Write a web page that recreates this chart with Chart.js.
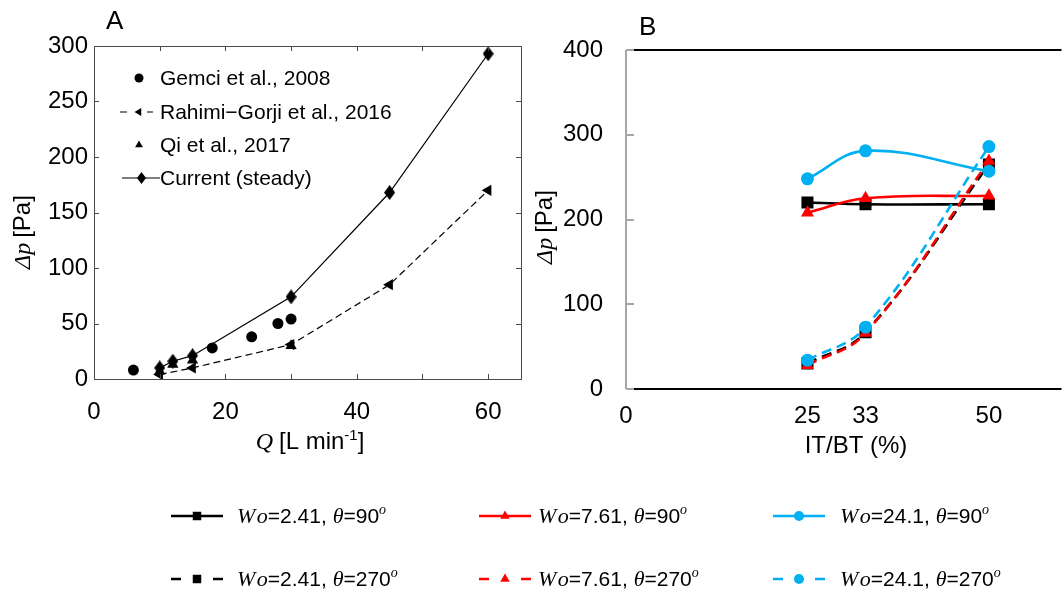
<!DOCTYPE html>
<html>
<head>
<meta charset="utf-8">
<script src="https://cdn.jsdelivr.net/npm/chart.js@4.4.1/dist/chart.umd.min.js"></script>
<style>
  html, body { margin: 0; padding: 0; background: #fff; overflow: hidden; width: 1062px; height: 592px; }
  canvas { position: absolute; top: 0; left: 0; }
</style>
</head>
<body>
<canvas id="chartA" width="540" height="470"></canvas>
<canvas id="chartB" width="1070" height="592"></canvas>
<script>
// ---------- Panel A: pressure drop against flow rate ----------
const flowGemci = [6, 18, 24, 28, 30];
const dpGemci = [8, 28, 38, 50, 54];
const flowRahimi = [10, 15, 30, 45, 60];
const dpRahimi = [4, 10, 31, 85, 170];
const flowQi = [10, 12, 15, 30];
const dpQi = [7, 13, 17, 30];
const flowCurrent = [10, 12, 15, 30, 45, 60];
const dpCurrent = [10, 16, 21, 74, 168, 293];
const flowTicks = [0, 10, 20, 30, 40, 50, 60];
const labelsA = ['Gemci et al., 2008', 'Rahimi\u2212Gorji et al., 2016', 'Qi et al., 2017', 'Current (steady)'];

// ---------- Panel B: pressure drop against IT/BT ----------
const itbt = [25, 33, 50];
const itbtTicks = [0, 25, 33, 50];
const woValues = ['2.41', '7.61', '24.1'];
const thetaValues = ['90', '270'];
const dpWo241Theta90 = [220, 218, 218];
const dpWo761Theta90 = [208, 225, 228];
const dpWo24Theta90 = [248, 281, 257];
const dpWo241Theta270 = [30, 67, 265];
const dpWo761Theta270 = [28, 66, 269];
const dpWo24Theta270 = [34, 73, 286];

const SANS = '"Liberation Sans", Arial, sans-serif';
const SERIF = '"Liberation Serif", "Times New Roman", serif';
const AXIS_A = '#4a4a4a';

const pts = (xs, ys) => xs.map((x, i) => ({ x: x, y: ys[i] }));

// tall diamond marker for the current results
function diamondMarker(w, h, color) {
  const c = document.createElement('canvas');
  c.width = w; c.height = h;
  const g = c.getContext('2d');
  g.fillStyle = color;
  g.beginPath();
  g.moveTo(w / 2, 0); g.lineTo(w, h / 2); g.lineTo(w / 2, h); g.lineTo(0, h / 2);
  g.closePath(); g.fill();
  return c;
}
const diamond = diamondMarker(11, 15, '#000');
const diamondSmall = diamondMarker(9, 12, '#000');

// draw a run of mixed-font text on one baseline
function drawRuns(ctx, runs, x, y, align) {
  let total = 0;
  runs.forEach(r => { ctx.font = r.font; r.w = ctx.measureText(r.text).width + (r.gap || 0); total += r.w; });
  let cx = align === 'center' ? x - total / 2 : x;
  ctx.textBaseline = 'alphabetic';
  ctx.textAlign = 'left';
  runs.forEach(r => { ctx.font = r.font; ctx.fillText(r.text, cx, y + (r.dy || 0)); cx += r.w; });
}

function marker(ctx, ds, x, y, radiusOverride, styleOverride) {
  ctx.fillStyle = ds.pointBackgroundColor || ds.backgroundColor;
  ctx.strokeStyle = ds.borderColor;
  Chart.helpers.drawPoint(ctx, {
    pointStyle: styleOverride || ds.pointStyle,
    rotation: ds.pointRotation || 0,
    radius: radiusOverride || ds.pointRadius,
    borderWidth: 0
  }, x, y);
}

// ---------- chart A ----------
const panelA = {
  id: 'panelA',
  afterDatasetsDraw(chart) {
    const { ctx, chartArea: a, scales: { x, y } } = chart;
    ctx.save();
    // frame
    ctx.strokeStyle = AXIS_A;
    ctx.lineWidth = 1;
    ctx.strokeRect(Math.round(a.left) + 0.5, Math.round(a.top) + 0.5,
                   Math.round(a.right - a.left), Math.round(a.bottom - a.top));
    // inward ticks
    ctx.beginPath();
    x.ticks.forEach(t => {
      if (t.value <= x.min || t.value >= x.max) return;
      const px = Math.round(x.getPixelForValue(t.value)) + 0.5;
      ctx.moveTo(px, a.bottom); ctx.lineTo(px, a.bottom - 5);
      ctx.moveTo(px, a.top); ctx.lineTo(px, a.top + 5);
    });
    y.ticks.forEach(t => {
      if (t.value <= y.min || t.value >= y.max) return;
      const py = Math.round(y.getPixelForValue(t.value)) + 0.5;
      ctx.moveTo(a.left, py); ctx.lineTo(a.left + 5, py);
      ctx.moveTo(a.right, py); ctx.lineTo(a.right - 5, py);
    });
    ctx.stroke();

    // legend inside the axes
    const rows = [78, 112, 145, 178];
    labelsA.forEach((lab, i) => {
      const ds = chart.data.datasets.find(d => d.label === lab);
      const yy = rows[i];
      if (ds.showLine) {
        ctx.save();
        ctx.strokeStyle = ds.borderColor;
        ctx.lineWidth = ds.borderWidth;
        ctx.beginPath();
        if (ds.borderDash && ds.borderDash.length) {
          ctx.moveTo(120, yy); ctx.lineTo(127, yy);
          ctx.moveTo(147, yy); ctx.lineTo(153, yy);
        } else {
          ctx.moveTo(122, yy); ctx.lineTo(160, yy);
        }
        ctx.stroke();
        ctx.restore();
      }
      const isDiamond = typeof ds.pointStyle !== 'string';
      marker(ctx, ds, isDiamond ? 141.5 : 139, yy, 4.5, isDiamond ? diamondSmall : null);
      ctx.fillStyle = '#000';
      ctx.font = '21px ' + SANS;
      ctx.textBaseline = 'middle';
      ctx.textAlign = 'left';
      ctx.fillText(lab, 160, yy + 1);
    });
    ctx.restore();
  },
  afterDraw(chart) {
    const { ctx } = chart;
    ctx.save();
    ctx.fillStyle = '#000';
    ctx.font = '26px ' + SANS;
    ctx.textBaseline = 'alphabetic';
    ctx.fillText('A', 106, 29);
    // x title
    drawRuns(ctx, [
      { text: 'Q', font: 'italic 24px ' + SERIF, gap: 6 },
      { text: '[L min', font: '24px ' + SANS },
      { text: '-1', font: '15px ' + SANS, dy: -9 },
      { text: ']', font: '24px ' + SANS }
    ], 310, 449, 'center');
    // y title
    ctx.translate(30, 232);
    ctx.rotate(-Math.PI / 2);
    drawRuns(ctx, [
      { text: '\u0394', font: 'italic 24px ' + SERIF },
      { text: 'p', font: 'italic 24px ' + SERIF, gap: 5 },
      { text: '[Pa]', font: '24px ' + SANS }
    ], 0, 0, 'center');
    ctx.restore();
  }
};

new Chart(document.getElementById('chartA'), {
  type: 'scatter',
  data: {
    datasets: [
      { label: labelsA[3], data: pts(flowCurrent, dpCurrent), showLine: true,
        borderColor: '#000', backgroundColor: '#000', borderWidth: 1.2,
        pointStyle: diamond, pointRadius: 7, pointBorderWidth: 0, tension: 0 },
      { label: labelsA[2], data: pts(flowQi, dpQi), showLine: false,
        borderColor: '#000', backgroundColor: '#000',
        pointStyle: 'triangle', pointRadius: 6.5, pointBorderWidth: 0 },
      { label: labelsA[1], data: pts(flowRahimi, dpRahimi), showLine: true,
        borderColor: '#000', backgroundColor: '#000', borderWidth: 1.2, borderDash: [7, 4],
        pointStyle: 'triangle', pointRotation: -90, pointRadius: 6.5, pointBorderWidth: 0, tension: 0 },
      { label: labelsA[0], data: pts(flowGemci, dpGemci), showLine: false,
        borderColor: '#000', backgroundColor: '#000',
        pointStyle: 'circle', pointRadius: 5.5, pointBorderWidth: 0 }
    ]
  },
  options: {
    responsive: false,
    animation: false,
    devicePixelRatio: 1,
    layout: { padding: { top: 46, right: 19, bottom: 0, left: 0 } },
    plugins: { legend: { display: false }, tooltip: { enabled: false } },
    scales: {
      x: {
        type: 'linear', min: 0, max: 65,
        grid: { display: false, drawTicks: false }, border: { display: false },
        afterBuildTicks: s => { s.ticks = flowTicks.map(v => ({ value: v })); },
        ticks: { autoSkip: false, maxRotation: 0, padding: 19, color: '#000',
                 font: { family: SANS, size: 24 },
                 callback: v => (v % 20 === 0) ? String(v) : '' },
        afterFit: s => { s.height = 91; s.paddingLeft = 0; s.paddingRight = 0; }
      },
      y: {
        type: 'linear', min: 0, max: 300,
        grid: { display: false, drawTicks: false }, border: { display: false },
        ticks: { stepSize: 50, padding: 6, color: '#000', font: { family: SANS, size: 24 } },
        afterFit: s => { s.width = 94; }
      }
    }
  },
  plugins: [panelA]
});

// ---------- chart B ----------
const colorsB = ['#000000', '#ff0000', '#00b0f0'];
const stylesB = ['rect', 'triangle', 'circle'];
const radiiB = [8.5, 7.5, 6.5];
const legendRadiiB = [6, 5.5, 5];
const valuesB = [
  [dpWo241Theta90, dpWo241Theta270],
  [dpWo761Theta90, dpWo761Theta270],
  [dpWo24Theta90, dpWo24Theta270]
];

// blue drawn on top, black at the bottom
const datasetsB = [];
[2, 1, 0].forEach(w => {
  [0, 1].forEach(t => {
    datasetsB.push({
      label: 'Wo=' + woValues[w] + ', \u03b8=' + thetaValues[t] + '\u00b0',
      woIndex: w, thetaIndex: t,
      data: pts(itbt, valuesB[w][t]),
      showLine: true,
      borderColor: colorsB[w], backgroundColor: colorsB[w],
      borderWidth: 2.6,
      borderDash: t === 1 ? [10, 6] : [],
      pointStyle: stylesB[w], pointRadius: radiiB[w], pointBorderWidth: 0,
      tension: 0.4
    });
  });
});

const panelB = {
  id: 'panelB',
  afterDatasetsDraw(chart) {
    const { ctx, chartArea: a, scales: { y } } = chart;
    ctx.save();
    ctx.lineWidth = 2;
    // top and bottom lines
    ctx.strokeStyle = '#000';
    ctx.beginPath();
    ctx.moveTo(a.left + 7, a.top); ctx.lineTo(a.right, a.top);
    ctx.moveTo(a.left + 7, a.bottom); ctx.lineTo(a.right, a.bottom);
    ctx.stroke();
    // value axis with inward ticks
    ctx.strokeStyle = '#a6a6a6';
    ctx.beginPath();
    ctx.moveTo(a.left, a.top); ctx.lineTo(a.left, a.bottom);
    y.ticks.forEach(t => {
      const py = Math.round(y.getPixelForValue(t.value));
      ctx.moveTo(a.left, py); ctx.lineTo(a.left + 8, py);
    });
    ctx.stroke();
    ctx.restore();
  },
  afterDraw(chart) {
    const { ctx } = chart;
    ctx.save();
    ctx.fillStyle = '#000';
    ctx.font = '26px ' + SANS;
    ctx.textBaseline = 'alphabetic';
    ctx.textAlign = 'left';
    ctx.fillText('B', 639, 35);
    // x title
    ctx.font = '24px ' + SANS;
    ctx.textAlign = 'center';
    ctx.fillText('IT/BT (%)', 856, 453);
    // y title
    ctx.save();
    ctx.translate(552, 227);
    ctx.rotate(-Math.PI / 2);
    drawRuns(ctx, [
      { text: '\u0394', font: 'italic 24px ' + SERIF },
      { text: 'p', font: 'italic 24px ' + SERIF, gap: 5 },
      { text: '[Pa]', font: '24px ' + SANS }
    ], 0, 0, 'center');
    ctx.restore();

    // legend below the plot
    const lineStart = [171, 479, 773];
    const textX = [237, 538, 840];
    const rowY = [516, 579];
    chart.data.datasets.forEach(ds => {
      const x0 = lineStart[ds.woIndex], x1 = x0 + 52, xm = (x0 + x1) / 2;
      const yy = rowY[ds.thetaIndex];
      ctx.save();
      ctx.strokeStyle = ds.borderColor;
      ctx.lineWidth = 2.6;
      ctx.beginPath();
      if (ds.thetaIndex === 0) {
        ctx.moveTo(x0, yy); ctx.lineTo(x1, yy);
      } else {
        ctx.moveTo(x0, yy); ctx.lineTo(x0 + 10, yy);
        ctx.moveTo(x1 - 10, yy); ctx.lineTo(x1, yy);
      }
      ctx.stroke();
      marker(ctx, ds, xm, yy, legendRadiiB[ds.woIndex]);
      ctx.restore();
      ctx.fillStyle = '#000';
      drawRuns(ctx, [
        { text: 'W', font: 'italic 22px ' + SERIF, gap: 1.5 },
        { text: 'o', font: 'italic 22px ' + SERIF },
        { text: '=' + woValues[ds.woIndex] + ', ', font: '21px ' + SANS },
        { text: '\u03b8', font: 'italic 22px ' + SERIF },
        { text: '=' + thetaValues[ds.thetaIndex], font: '21px ' + SANS },
        { text: 'o', font: 'italic 14px ' + SERIF, dy: -9 }
      ], textX[ds.woIndex], yy + 7, 'left');
    });
    ctx.restore();
  }
};

new Chart(document.getElementById('chartB'), {
  type: 'scatter',
  data: { datasets: datasetsB },
  options: {
    responsive: false,
    animation: false,
    devicePixelRatio: 1,
    layout: { padding: { top: 50, right: 0, bottom: 103, left: 526 } },
    plugins: { legend: { display: false }, tooltip: { enabled: false } },
    scales: {
      x: {
        type: 'linear', min: 0, max: 60,
        grid: { display: false, drawTicks: false }, border: { display: false },
        afterBuildTicks: s => { s.ticks = itbtTicks.map(v => ({ value: v })); },
        ticks: { autoSkip: false, maxRotation: 0, padding: 13, color: '#000',
                 font: { family: SANS, size: 24 } },
        afterFit: s => { s.height = 100; s.paddingLeft = 0; s.paddingRight = 0; }
      },
      y: {
        type: 'linear', min: 0, max: 400,
        grid: { display: false, drawTicks: false }, border: { display: false },
        ticks: { stepSize: 100, padding: 23, color: '#000', font: { family: SANS, size: 24 } },
        afterFit: s => { s.width = 100; }
      }
    }
  },
  plugins: [panelB]
});
</script>
</body>
</html>
